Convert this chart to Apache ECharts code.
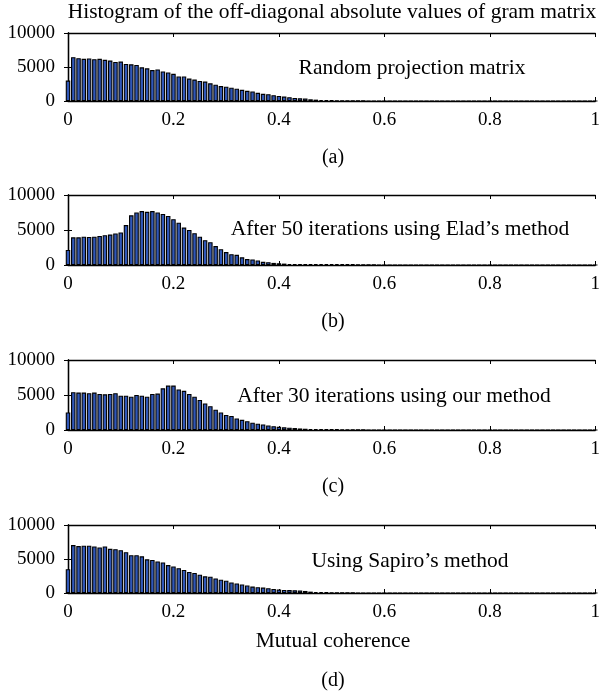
<!DOCTYPE html>
<html>
<head>
<meta charset="utf-8">
<script src="https://cdn.jsdelivr.net/npm/echarts@6/dist/echarts.min.js"></script>
<style>html,body{margin:0;padding:0;background:#fff}#c{width:603px;height:696px}</style>
</head>
<body>
<div id="c"></div>
<script>
// Bin centres (0.00 ... 1.00, step 0.01)
var binCenters = [];
for (var i = 0; i <= 100; i++) binCenters.push(+(i / 100).toFixed(2));

var xTickLabels = ['0', '0.2', '0.4', '0.6', '0.8', '1'];
var yTickLabels = ['0', '5000', '10000'];

// (a) Random projection matrix
var countsRandom = [3000,6450,6300,6200,6250,6150,6200,6050,5950,5750,5800,5450,5400,5300,4950,4800,4550,4650,4350,4200,4000,3600,3600,3300,3150,2950,2850,2600,2400,2200,2100,1950,1800,1650,1500,1400,1200,1050,1000,850,750,650,550,450,400,350,250,200,150,130,100,
  80,65,50,40,30,25,20,15,10,8,5,4,3,2,1,1,
  0,0,0,0,0,0,0,0,0,0,0,0,0,0,0,0,0,0,0,0,0,0,0,0,0,0,0,0,0,0,0,0,0,0];
// (b) After 50 iterations using Elad's method
var countsElad = [2150,3950,3950,4050,4000,4050,4150,4250,4350,4500,4650,5700,7100,7500,7700,7600,7700,7500,7300,7000,6550,6050,5350,5000,4550,4050,3550,3250,2700,2250,1850,1550,1450,1100,850,800,650,450,400,300,250,200,150,120,110,120,130,140,150,150,150,140,130,120,100,80,60,40,30,20,10,
  0,0,0,0,0,0,0,0,0,0,0,0,0,0,0,0,0,0,0,0,0,0,0,0,0,0,0,0,0,0,0,0,0,0,0,0,0,0,0,0];
// (c) After 30 iterations using our method
var countsOurs = [2500,5400,5350,5350,5250,5350,5150,5100,5150,5250,4900,4900,4750,5000,4900,4750,5150,5200,5950,6350,6350,5800,5600,5150,4750,4300,3800,3400,2900,2500,2150,2000,1650,1450,1250,1050,900,800,650,550,450,380,330,280,220,180,150,130,120,110,100,100,90,80,60,40,25,15,10,5,3,
  0,0,0,0,0,0,0,0,0,0,0,0,0,0,0,0,0,0,0,0,0,0,0,0,0,0,0,0,0,0,0,0,0,0,0,0,0,0,0,0];
// (d) Using Sapiro's method
var countsSapiro = [3500,7050,6900,6950,6950,6850,6700,6850,6500,6450,6300,6000,5550,5550,5400,4950,4850,4650,4500,4100,3900,3650,3400,3100,2950,2700,2450,2400,2150,1950,1800,1550,1400,1250,1100,950,850,800,700,600,500,450,430,400,350,300,200,150,140,100,80,60,50,40,30,20,15,10,5,3,2,
  0,0,0,0,0,0,0,0,0,0,0,0,0,0,0,0,0,0,0,0,0,0,0,0,0,0,0,0,0,0,0,0,0,0,0,0,0,0,0,0];

var panelTexts = ['Random projection matrix', 'After 50 iterations using Elad\u2019s method', 'After 30 iterations using our method', 'Using Sapiro\u2019s method'];
var panelLetters = ['(a)', '(b)', '(c)', '(d)'];
var mainTitle = 'Histogram of the off-diagonal absolute values of gram matrix';
var xAxisName = 'Mutual coherence';

var allCounts = [countsRandom, countsElad, countsOurs, countsSapiro];

var FONT = '"Liberation Serif", "DejaVu Serif", serif';
var grids = [
  {left: 68, width: 530, top: 33, height: 68},
  {left: 68, width: 530, top: 195, height: 70},
  {left: 68, width: 530, top: 360, height: 70},
  {left: 68, width: 530, top: 525, height: 68}
];
var textPos = [
  {x: 412, y: 68}, {x: 400, y: 229}, {x: 394, y: 396}, {x: 410, y: 561}
];
var letterY = [158, 322, 487, 681];

var xAxes = [], yAxes = [], series = [], graphics = [];
grids.forEach(function (g, k) {
  xAxes.push({
    type: 'value', gridIndex: k, min: 0, max: 1, interval: 0.2, position: 'bottom',
    axisLine: {show: true, onZero: false, lineStyle: {color: '#000', width: 1.3}},
    axisTick: {show: true, inside: true, length: 4, lineStyle: {color: '#000'}},
    axisLabel: {show: true, color: '#000', fontFamily: FONT, fontSize: 19, margin: 10,
      formatter: function (v) { return xTickLabels[Math.round(v * 5)]; }},
    splitLine: {show: false}
  });
  xAxes.push({
    type: 'value', gridIndex: k, min: 0, max: 1, interval: 0.2, position: 'top',
    axisLine: {show: true, onZero: false, lineStyle: {color: '#000', width: 1.3}},
    axisTick: {show: true, inside: true, length: 4, lineStyle: {color: '#000'}},
    axisLabel: {show: false}, splitLine: {show: false}
  });
  yAxes.push({
    type: 'value', gridIndex: k, min: 0, max: 10000, interval: 5000, position: 'left',
    axisLine: {show: true, lineStyle: {color: '#000', width: 1.3}},
    axisTick: {show: true, inside: true, length: 4, lineStyle: {color: '#000'}},
    axisLabel: {show: true, color: '#000', fontFamily: FONT, fontSize: 19, margin: 13,
      formatter: function (v) { return yTickLabels[Math.round(v / 5000)]; }},
    splitLine: {show: false}
  });
  yAxes.push({
    type: 'value', gridIndex: k, min: 0, max: 10000, interval: 5000, position: 'right',
    axisLine: {show: true, lineStyle: {color: '#000', width: 1.3}},
    axisTick: {show: true, inside: true, length: 4, lineStyle: {color: '#000'}},
    axisLabel: {show: false}, splitLine: {show: false}
  });
  series.push({
    type: 'bar', xAxisIndex: 2 * k, yAxisIndex: 2 * k, clip: true,
    barWidth: 4.5, barGap: '0%',
    itemStyle: {color: '#3057b8', borderColor: '#000', borderWidth: 1.1},
    data: binCenters.map(function (c, i) { return [c, allCounts[k][i]]; }),
    silent: true, animation: false
  });
  graphics.push({type: 'text', x: textPos[k].x, y: textPos[k].y,
    style: {text: panelTexts[k], fontFamily: FONT, fontSize: 21.5, fill: '#000', textAlign: 'center', textVerticalAlign: 'middle'}});
  graphics.push({type: 'text', x: 333, y: letterY[k],
    style: {text: panelLetters[k], fontFamily: FONT, fontSize: 20, fill: '#000', textAlign: 'center', textVerticalAlign: 'middle'}});
});
graphics.push({type: 'text', x: 332, y: 12,
  style: {text: mainTitle, fontFamily: FONT, fontSize: 21.5, fill: '#000', textAlign: 'center', textVerticalAlign: 'middle'}});
graphics.push({type: 'text', x: 333, y: 641,
  style: {text: xAxisName, fontFamily: FONT, fontSize: 21.5, fill: '#000', textAlign: 'center', textVerticalAlign: 'middle'}});

var chart = echarts.init(document.getElementById('c'), null, {renderer: 'canvas'});
chart.setOption({
  animation: false,
  backgroundColor: '#fff',
  grid: grids,
  xAxis: xAxes,
  yAxis: yAxes,
  series: series,
  graphic: graphics
});
</script>
</body>
</html>
